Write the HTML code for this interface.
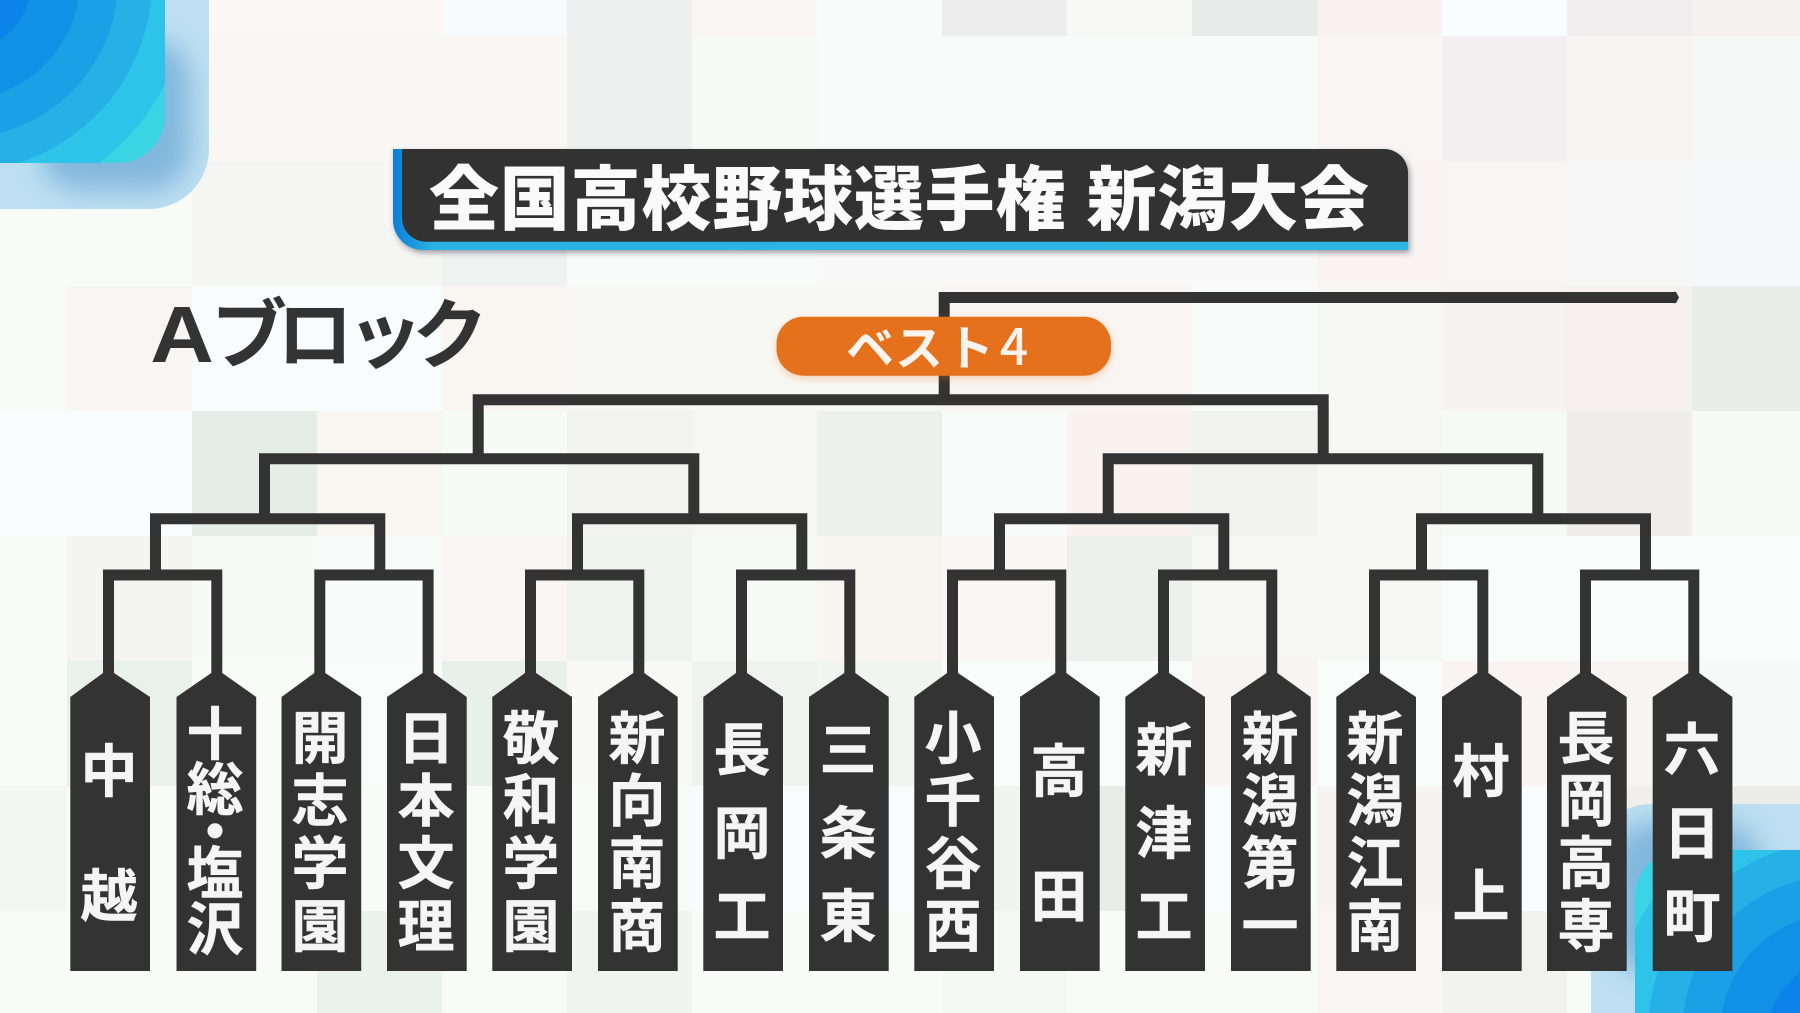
<!DOCTYPE html>
<html lang="ja">
<head>
<meta charset="utf-8">
<title>全国高校野球選手権 新潟大会 Aブロック</title>
<style>
html,body{margin:0;padding:0;background:#f8fbf8;width:1800px;height:1013px;overflow:hidden}
svg{display:block}
.s{font-family:"Liberation Sans","Noto Sans CJK JP",sans-serif;font-weight:700;font-size:57px;fill:#f5f5f5;stroke:#f5f5f5;stroke-width:.5px;text-anchor:middle}
</style>
</head>
<body>
<svg xmlns="http://www.w3.org/2000/svg" width="1800" height="1013" viewBox="0 0 1800 1013">
<defs>
<clipPath id="co"><path d="M0,0H209V149A60,60 0 0 1 149,209H0Z"/></clipPath>
<filter id="b1" x="-30%" y="-30%" width="160%" height="160%"><feGaussianBlur stdDeviation="13"/></filter>
<filter id="ts" x="-3%" y="-20%" width="106%" height="140%"><feDropShadow dx="2" dy="3" stdDeviation="3" flood-color="#334" flood-opacity=".45"/></filter>
<filter id="ps" x="-10%" y="-30%" width="120%" height="170%"><feDropShadow dx="0" dy="3" stdDeviation="4" flood-color="#e8701e" flood-opacity=".3"/></filter>
<linearGradient id="edge" x1="0" y1="0" x2="1" y2="0"><stop offset="0" stop-color="#0c7fd8"/><stop offset=".04" stop-color="#2bb3e4"/><stop offset="1" stop-color="#2fb6e2"/></linearGradient>
<g id="corner">
<path d="M0,0H209V149A60,60 0 0 1 149,209H0Z" fill="#bddff1"/>
<g clip-path="url(#co)"><rect x="40" y="40" width="150" height="150" rx="40" fill="#5c9dd0" opacity=".6" filter="url(#b1)"/></g>
<path d="M0,0H165V116A47,47 0 0 1 118,163H0Z" fill="#3ad4e4"/>
<path d="M0,0H165V84A230,230 0 0 1 99,163H0Z" fill="#2ec3e8"/>
<path d="M0,0H151A192,192 0 0 1 18,163H0Z" fill="#25b1e6"/>
<path d="M0,0H116.7A158,158 0 0 1 0,132.9Z" fill="#1aa1e5"/>
<path d="M0,0H78.3A120,120 0 0 1 0,93Z" fill="#1091e5"/>
<path d="M0,0H29A72,72 0 0 1 0,39.9Z" fill="#0a84e8"/>
</g>
</defs>

<!-- background tiles -->
<rect width="1800" height="1013" fill="#f8fbf8"/>
<g shape-rendering="crispEdges">
<!-- r0 -->
<rect x="192" y="0" width="250" height="36" fill="#faf7f4"/><rect x="442" y="0" width="125" height="36" fill="#f8fbfb"/><rect x="567" y="0" width="125" height="36" fill="#eef0ef"/><rect x="692" y="0" width="125" height="36" fill="#f9f5f2"/><rect x="817" y="0" width="125" height="36" fill="#f9fbfb"/><rect x="942" y="0" width="125" height="36" fill="#ecedec"/><rect x="1067" y="0" width="125" height="36" fill="#f8f8f7"/><rect x="1192" y="0" width="125" height="36" fill="#e9ebeb"/><rect x="1317" y="0" width="125" height="36" fill="#f8f3f2"/><rect x="1442" y="0" width="125" height="36" fill="#f8fcfc"/><rect x="1567" y="0" width="125" height="36" fill="#efedee"/><rect x="1692" y="0" width="108" height="36" fill="#f6f1f1"/>
<!-- r1 -->
<rect x="192" y="36" width="375" height="125" fill="#f9f7f4"/><rect x="567" y="36" width="125" height="125" fill="#eef0ef"/><rect x="692" y="36" width="125" height="125" fill="#f7f9f6"/><rect x="817" y="36" width="500" height="125" fill="#f8fbfa"/><rect x="1317" y="36" width="125" height="125" fill="#f9f5f5"/><rect x="1442" y="36" width="125" height="125" fill="#f2eff0"/><rect x="1567" y="36" width="125" height="125" fill="#f8f4f4"/><rect x="1692" y="36" width="108" height="125" fill="#f6f8f8"/>
<!-- r2 -->
<rect x="192" y="161" width="250" height="125" fill="#f5f5f3"/><rect x="442" y="161" width="125" height="125" fill="#f0f2f1"/><rect x="567" y="161" width="250" height="125" fill="#f9fbfa"/><rect x="817" y="161" width="500" height="125" fill="#f8f9f8"/><rect x="1317" y="161" width="125" height="125" fill="#f9f4f3"/><rect x="1442" y="161" width="125" height="125" fill="#faf5f5"/><rect x="1567" y="161" width="125" height="125" fill="#f7f7f7"/><rect x="1692" y="161" width="108" height="125" fill="#f5f8f8"/>
<!-- r3 -->
<rect x="67" y="286" width="125" height="125" fill="#f8f6f2"/><rect x="192" y="286" width="250" height="125" fill="#f8fcfc"/><rect x="442" y="286" width="125" height="125" fill="#f9f6f2"/><rect x="567" y="286" width="375" height="125" fill="#f7f8f4"/><rect x="942" y="286" width="250" height="125" fill="#f9f5f2"/><rect x="1192" y="286" width="125" height="125" fill="#f9fbfa"/><rect x="1317" y="286" width="125" height="125" fill="#f7f7f3"/><rect x="1442" y="286" width="125" height="125" fill="#f6f3f1"/><rect x="1567" y="286" width="125" height="125" fill="#f6f0ef"/><rect x="1692" y="286" width="108" height="125" fill="#eaecea"/>
<!-- r4 -->
<rect x="0" y="411" width="192" height="125" fill="#f8fcfc"/><rect x="192" y="411" width="125" height="125" fill="#e4ede8"/><rect x="317" y="411" width="125" height="125" fill="#f7f6f1"/><rect x="442" y="411" width="125" height="125" fill="#f6fbf6"/><rect x="567" y="411" width="125" height="125" fill="#f3f3f2"/><rect x="692" y="411" width="125" height="125" fill="#f6f7f3"/><rect x="817" y="411" width="125" height="125" fill="#eef0ee"/><rect x="942" y="411" width="125" height="125" fill="#f9fbfa"/><rect x="1067" y="411" width="125" height="125" fill="#f9f3f0"/><rect x="1192" y="411" width="125" height="125" fill="#f1f1ef"/><rect x="1317" y="411" width="125" height="125" fill="#f6f6f3"/><rect x="1442" y="411" width="125" height="125" fill="#f6f9f6"/><rect x="1567" y="411" width="125" height="125" fill="#efedec"/><rect x="1692" y="411" width="108" height="125" fill="#f7f9f7"/>
<!-- r5 -->
<rect x="67" y="536" width="125" height="125" fill="#f4f5f0"/><rect x="192" y="536" width="125" height="125" fill="#f6fbf5"/><rect x="317" y="536" width="125" height="125" fill="#f8fbf9"/><rect x="442" y="536" width="125" height="125" fill="#f8f5f2"/><rect x="567" y="536" width="125" height="125" fill="#eff2ee"/><rect x="692" y="536" width="125" height="125" fill="#f7f9f6"/><rect x="817" y="536" width="125" height="125" fill="#f8f5f1"/><rect x="942" y="536" width="125" height="125" fill="#f8f7f3"/><rect x="1067" y="536" width="125" height="125" fill="#eef0ee"/><rect x="1192" y="536" width="250" height="125" fill="#f6f6f3"/><rect x="1442" y="536" width="358" height="125" fill="#f8fcfb"/>
<!-- r6 -->
<rect x="67" y="661" width="125" height="125" fill="#e8f1ec"/><rect x="317" y="661" width="125" height="125" fill="#f8fcfb"/><rect x="442" y="661" width="125" height="125" fill="#e8f0ec"/><rect x="567" y="661" width="125" height="125" fill="#f8f8f4"/><rect x="692" y="661" width="125" height="125" fill="#f0f2ee"/><rect x="817" y="661" width="125" height="125" fill="#f2f4f0"/><rect x="942" y="661" width="250" height="125" fill="#f8fcfb"/><rect x="1192" y="661" width="125" height="125" fill="#f8f4f1"/><rect x="1317" y="661" width="125" height="125" fill="#f8fcfb"/><rect x="1442" y="661" width="125" height="125" fill="#f9f3f1"/><rect x="1567" y="661" width="125" height="125" fill="#f7f5f3"/><rect x="1692" y="661" width="108" height="125" fill="#f8fafa"/>
<!-- r7 -->
<rect x="0" y="786" width="67" height="125" fill="#f2f7f2"/><rect x="442" y="786" width="125" height="125" fill="#f8fcf9"/><rect x="692" y="786" width="250" height="125" fill="#f8fcfc"/><rect x="942" y="786" width="125" height="125" fill="#f0f3ef"/><rect x="1067" y="786" width="125" height="125" fill="#e9edea"/><rect x="1192" y="786" width="125" height="125" fill="#f7fcfc"/><rect x="1317" y="786" width="125" height="125" fill="#f6f3f0"/><rect x="1442" y="786" width="125" height="125" fill="#f8fcfc"/><rect x="1567" y="786" width="125" height="125" fill="#f1efec"/><rect x="1692" y="786" width="108" height="125" fill="#ebecea"/>
<!-- r8 -->
<rect x="317" y="911" width="125" height="102" fill="#e9f3ec"/><rect x="567" y="911" width="125" height="102" fill="#eff4ef"/><rect x="942" y="911" width="125" height="102" fill="#f4f9f4"/><rect x="1317" y="911" width="125" height="102" fill="#f9f6f3"/><rect x="1442" y="911" width="125" height="102" fill="#f1f1ef"/>
</g>

<!-- corners -->
<use href="#corner"/>
<use href="#corner" transform="rotate(180 900 506.5)"/>

<!-- title -->
<g filter="url(#ts)">
<path d="M393,149H1384A24,24 0 0 1 1408,173V250H423A30,30 0 0 1 393,220Z" fill="url(#edge)"/>
<path d="M402,149H1384A24,24 0 0 1 1408,173V241.7H426A24,24 0 0 1 402,217.7Z" fill="#333"/>
</g>
<text x="429" y="224" textLength="940" lengthAdjust="spacing" font-family="'Liberation Sans','Noto Sans CJK JP',sans-serif" font-weight="900" font-size="70" fill="#fafafa" xml:space="preserve">全国高校野球選手権 新潟大会</text>

<!-- A block -->
<text transform="translate(182,362) scale(1.1,1)" fill="#333" font-weight="700" text-anchor="middle" font-family="'Liberation Sans',sans-serif" font-size="80">A</text>
<text y="362" fill="#333" font-weight="700" text-anchor="middle" x="249 315 385 450" font-family="'Liberation Sans','Noto Sans CJK JP',sans-serif" font-size="76">ブロック</text>

<!-- bracket lines -->
<g fill="none" stroke="#333" stroke-width="11" stroke-linejoin="miter">
<polyline points="108.5,680 108.5,575 216.8,575 216.8,680"/>
<polyline points="319.8,680 319.8,575 428.1,575 428.1,680"/>
<polyline points="530.5,680 530.5,575 638.8,575 638.8,680"/>
<polyline points="741.5,680 741.5,575 849.8,575 849.8,680"/>
<polyline points="952.5,680 952.5,575 1060.8,575 1060.8,680"/>
<polyline points="1163.5,680 1163.5,575 1271.8,575 1271.8,680"/>
<polyline points="1374.5,680 1374.5,575 1482.8,575 1482.8,680"/>
<polyline points="1585.5,680 1585.5,575 1693.8,575 1693.8,680"/>
<polyline points="155.5,575 155.5,518.8 379.8,518.8 379.8,575"/>
<polyline points="577.5,575 577.5,518.8 801.8,518.8 801.8,575"/>
<polyline points="999.5,575 999.5,518.8 1223.8,518.8 1223.8,575"/>
<polyline points="1421.5,575 1421.5,518.8 1645.5,518.8 1645.5,575"/>
<polyline points="264.5,519 264.5,458.7 693.8,458.7 693.8,519"/>
<polyline points="1108.2,519 1108.2,458.7 1537.8,458.7 1537.8,519"/>
<polyline points="478.2,459 478.2,399.7 1323.2,399.7 1323.2,459"/>
<polyline points="944.2,400 944.2,297.5 1674,297.5"/>
</g>
<polygon points="1673,291.9 1676,291.9 1679,297.5 1676,303.1 1673,303.1" fill="#333"/>

<!-- best 4 pill -->
<rect x="776.5" y="316.7" width="334.5" height="59" rx="27" fill="#e6711c" filter="url(#ps)"/>
<text y="365" fill="#fbf3ec" font-weight="700" text-anchor="middle" font-family="'Liberation Sans','Noto Sans CJK JP',sans-serif"><tspan x="870 919 970" font-size="48">ベスト</tspan><tspan x="1014" font-family="'Noto Sans CJK JP',sans-serif" font-weight="500" font-size="50">4</tspan></text>

<!-- school tags -->
<g fill="#333">
<polygon points="70.3,697 103,673 114,673 150,697 150,971 70.3,971"/>
<polygon points="176.5,697 211.3,673 222.3,673 256.2,697 256.2,971 176.5,971"/>
<polygon points="281.5,697 314.3,673 325.3,673 361.2,697 361.2,971 281.5,971"/>
<polygon points="387,697 422.6,673 433.6,673 466.7,697 466.7,971 387,971"/>
<polygon points="492.3,697 525,673 536,673 572,697 572,971 492.3,971"/>
<polygon points="598,697 633.3,673 644.3,673 677.7,697 677.7,971 598,971"/>
<polygon points="703.3,697 736,673 747,673 783,697 783,971 703.3,971"/>
<polygon points="809,697 844.3,673 855.3,673 888.7,697 888.7,971 809,971"/>
<polygon points="914.3,697 947,673 958,673 994,697 994,971 914.3,971"/>
<polygon points="1020,697 1055.3,673 1066.3,673 1099.7,697 1099.7,971 1020,971"/>
<polygon points="1125.3,697 1158,673 1169,673 1205,697 1205,971 1125.3,971"/>
<polygon points="1231,697 1266.3,673 1277.3,673 1310.7,697 1310.7,971 1231,971"/>
<polygon points="1336.3,697 1369,673 1380,673 1416,697 1416,971 1336.3,971"/>
<polygon points="1442,697 1477.3,673 1488.3,673 1521.7,697 1521.7,971 1442,971"/>
<polygon points="1547,697 1580,673 1591,673 1626.7,697 1626.7,971 1547,971"/>
<polygon points="1652.7,697 1688.3,673 1699.3,673 1732.4,697 1732.4,971 1652.7,971"/>
</g>
<text class="s" x="109 109" y="791.5 916.5">中越</text>
<text class="s" x="215 215 215 215 215" y="754.5 809.5 852.5 893.5 949.5">十総・塩沢</text>
<text class="s" x="320 320 320 320" y="758.5 821 883.5 946.5">開志学園</text>
<text class="s" x="426 426 426 426" y="758.5 821 883.5 946.5">日本文理</text>
<text class="s" x="531 531 531 531" y="758.5 821 883.5 946.5">敬和学園</text>
<text class="s" x="637 637 637 637" y="758.5 821 883.5 946.5">新向南商</text>
<text class="s" x="742 742 742" y="770 853.5 936.5">長岡工</text>
<text class="s" x="848 848 848" y="770 853.5 936.5">三条東</text>
<text class="s" x="953 953 953 953" y="758.5 821 883.5 946.5">小千谷西</text>
<text class="s" x="1059 1059" y="791.5 916.5">高田</text>
<text class="s" x="1164 1164 1164" y="770 853.5 936.5">新津工</text>
<text class="s" x="1270 1270 1270 1270" y="758.5 821 883.5 946.5">新潟第一</text>
<text class="s" x="1375 1375 1375 1375" y="758.5 821 883.5 946.5">新潟江南</text>
<text class="s" x="1481 1481" y="791.5 916.5">村上</text>
<text class="s" x="1586 1586 1586 1586" y="758.5 821 883.5 946.5">長岡高専</text>
<text class="s" x="1692 1692 1692" y="770 853.5 936.5">六日町</text>
</svg>
</body>
</html>
